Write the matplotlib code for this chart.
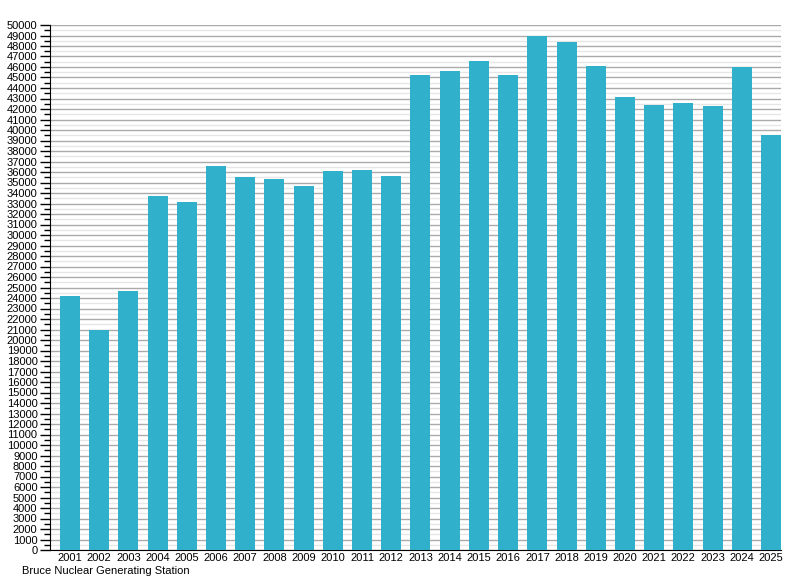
import matplotlib
matplotlib.use("Agg")
from matplotlib import pyplot as plt
from matplotlib.ticker import MultipleLocator
import numpy as np

plt.rcParams['font.family'] = ['Liberation Sans', 'DejaVu Sans']

years = [str(y) for y in range(2001, 2026)]
output = [24200, 21000, 24700, 33750, 33100, 36600, 35550, 35360, 34700,
          36130, 36220, 35650, 45270, 45650, 46600, 45270, 48980, 48410,
          46120, 43170, 42410, 42600, 42310, 45970, 39550]
title = 'Bruce Nuclear Generating Station'

fig = plt.figure(figsize=(8, 5.8), dpi=100)
ax = fig.add_axes([50 / 800, 30 / 580, 731 / 800, 525 / 580])

x = np.arange(len(years))
bw = 0.685
ax.bar(x, output, width=bw, align='edge', color='#31b0cb', zorder=3)

ax.set_xlim(-0.342, len(years) - 1 + bw)
ax.set_ylim(0, 50000)
ax.set_xticks(x + bw / 2)
ax.set_xticklabels(years, fontsize=8)
ax.tick_params(axis='x', length=0, pad=2)

ax.yaxis.set_major_locator(MultipleLocator(1000))
ax.yaxis.set_minor_locator(MultipleLocator(500))
ax.tick_params(axis='y', which='major', length=7, width=1, pad=2, labelsize=8)
ax.tick_params(axis='y', which='minor', length=4, width=1)
ax.grid(axis='y', which='major', color='#aaaaaa', linewidth=1, zorder=0)
ax.grid(axis='y', which='minor', color='#e6e6e6', linewidth=1, zorder=0)

for s in ['top', 'right']:
    ax.spines[s].set_visible(False)
ax.spines['left'].set_color('black')
ax.spines['bottom'].set_color('black')

fig.text(22 / 800, 1 - 571 / 580, title, fontsize=8, va='center', ha='left')

fig.savefig('out.png', dpi=100)
